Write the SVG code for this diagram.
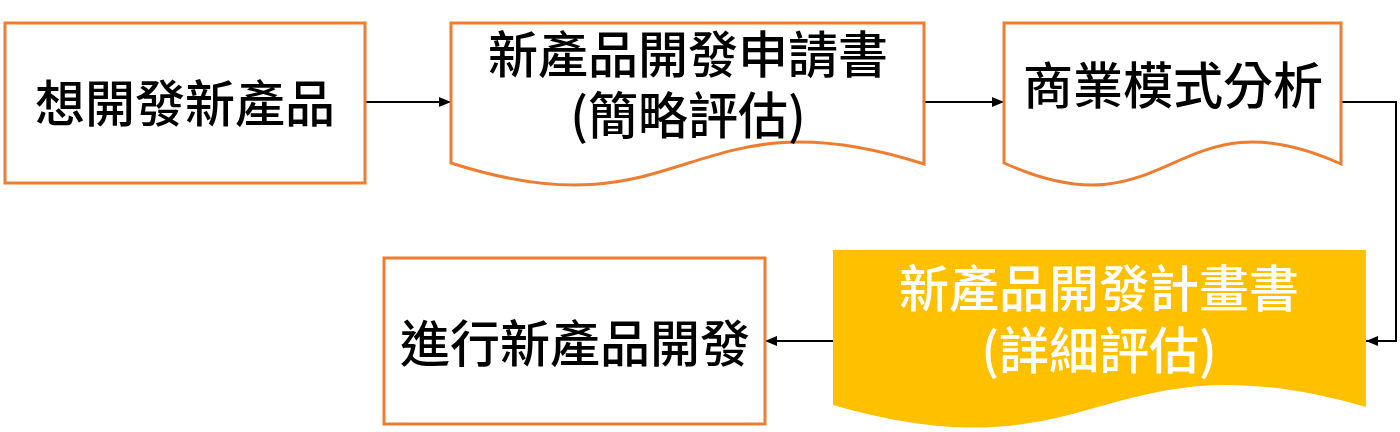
<svg xmlns="http://www.w3.org/2000/svg" width="1400" height="432" viewBox="0 0 1400 432">
<style>
.box{fill:#fff;stroke:#ED7D31;stroke-width:3}
.doc{fill:#FFC000;stroke:none}
.t{font-family:"Noto Sans CJK TC","Noto Sans CJK SC",sans-serif;font-size:50px;font-weight:500;fill:#000;text-anchor:middle;dominant-baseline:central}
.w{fill:#fff}
.c{fill:none;stroke:#000;stroke-width:2}
</style>
<defs>
<marker id="ah" viewBox="0 0 12 10" refX="12" refY="5" markerWidth="12" markerHeight="10" markerUnits="userSpaceOnUse" orient="auto">
<path d="M0,0 L12,5 L0,10 z" fill="#000"/>
</marker>
</defs>
<rect width="1400" height="432" fill="#fff"/>
<g id="connectors">
<path class="c" d="M365,102 H451" marker-end="url(#ah)"/>
<path class="c" d="M924,102 H1004" marker-end="url(#ah)"/>
<path class="c" d="M1341,102 H1396 V341 H1366" marker-end="url(#ah)"/>
<path class="c" d="M833,341 H765" marker-end="url(#ah)"/>
</g>
<g id="n1">
<rect class="box" x="5" y="23" width="360" height="160"/>
<text class="t" x="185" y="100">想開發新產品</text>
</g>
<g id="n2">
<path class="box" d="M451,23 H924 V164 C687,88 687,239 451,163 Z"/>
<text class="t" x="688" y="51">新產品開發申請書</text>
<text class="t" x="688" y="112">(簡略評估)</text>
</g>
<g id="n3">
<path class="box" d="M1004,23 H1341 V164 C1172,88 1172,239 1004,163 Z"/>
<text class="t" x="1173" y="82">商業模式分析</text>
</g>
<g id="n4">
<path class="doc" d="M833,250 H1366 V407 C1100,331 1100,482 833,405 Z"/>
<text class="t w" x="1099" y="285">新產品開發計畫書</text>
<text class="t w" x="1099" y="347">(詳細評估)</text>
</g>
<g id="n5">
<rect class="box" x="384" y="258" width="381" height="166"/>
<text class="t" x="575" y="340">進行新產品開發</text>
</g>
</svg>
